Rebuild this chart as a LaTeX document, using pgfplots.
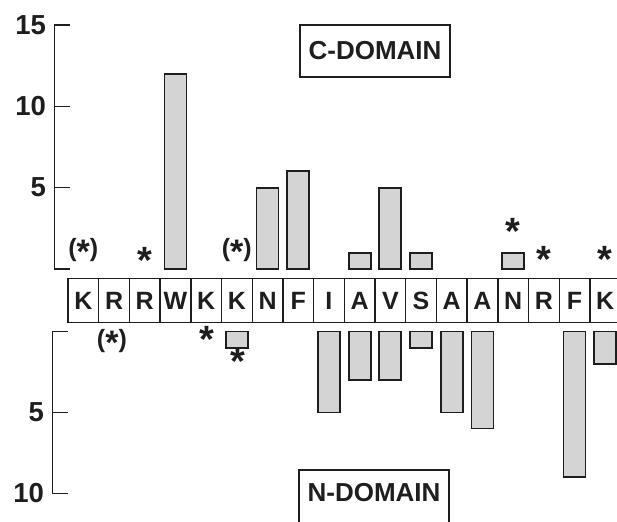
\documentclass[border=0pt]{standalone}
\usepackage{fontspec}
\setmainfont{Liberation Sans}
\usepackage{pgfplots}
\pgfplotsset{compat=1.18}

\definecolor{barfill}{RGB}{212,212,212}
\definecolor{ink}{RGB}{30,30,30}

% residue letters along the sequence
\def\residues{K,R,R,W,K,K,N,F,I,A,V,S,A,A,N,R,F,K}

\newcommand{\ticksize}{\fontsize{27.5}{27.5}\selectfont\bfseries}
\newcommand{\sig}{\fontsize{38}{38}\selectfont\bfseries\raisebox{-0.42em}{*}}
\newcommand{\psig}{\fontsize{25}{25}\selectfont\bfseries(\raisebox{-0.28em}{\fontsize{34}{34}\selectfont*})}

\tikzset{
  resbox/.style={draw=ink, line width=1.4pt, minimum width=30.7pt,
    minimum height=44pt, inner sep=0pt, anchor=north, text=ink,
    font=\fontsize{25}{25}\selectfont\bfseries},
}

\pgfplotsset{
  panel/.style={
    scale only axis,
    anchor=south west,
    axis lines*=left,
    x axis line style={draw=none},
    xtick=\empty,
    y axis line style={ink, line width=1.5pt},
    ytick style={ink, line width=1.5pt},
    tick align=inside,
    major tick length=15pt,
    /pgf/number format/assume math mode=true,
    yticklabel style={font=\ticksize, text=ink, xshift=-5pt},
    ybar, bar width=22pt,
    clip=false,
  },
  bars/.style={draw=ink, line width=1.8pt, fill=barfill},
}

\begin{document}
\begin{tikzpicture}

% C-domain (upward bars)
\begin{axis}[panel, name=cdom,
  at={(54.5pt,252pt)}, width=562.5pt, height=244pt,
  xmin=-0.9397, xmax=17.383, ymin=0, ymax=15,
  ytick={0,5,10,15}, yticklabels={,5,10,15},
]
\addplot[bars] coordinates {(3,12) (6,5) (7,6) (9,1) (10,5) (11,1) (14,1)};
\node[text=ink] at (axis cs:0,1.1)    {\psig};
\node[text=ink] at (axis cs:2,0.55)   {\sig};
\node[text=ink] at (axis cs:5,1.1)    {\psig};
\node[text=ink] at (axis cs:14,2.34)  {\sig};
\node[text=ink] at (axis cs:15,0.6)   {\sig};
\node[text=ink] at (axis cs:17,0.6)   {\sig};
% row of residue boxes
\foreach \r [count=\i from 0] in \residues {
  \edef\temp{\noexpand\node[resbox] at ([yshift=-9pt]axis cs:\i,0) {\r};}
  \temp
}
\end{axis}

% N-domain (downward bars)
\begin{axis}[panel, name=ndom,
  at={(52.5pt,27.7pt)}, width=564.5pt, height=161.8pt,
  y dir=reverse,
  xmin=-1.0049, xmax=17.383, ymin=0, ymax=10,
  ytick={0,5,10}, yticklabels={,5,10},
]
\addplot[bars] coordinates {(5,1) (8,5) (9,3) (10,3) (11,1) (12,5) (13,6) (16,9) (17,2)};
\node[text=ink] at (axis cs:0.93,0.65) {\psig};
\node[text=ink] at (axis cs:4.03,0.46) {\sig};
\node[text=ink] at (axis cs:5.04,1.82) {\sig};
\end{axis}

% vertical scale bars of both panels
\draw[ink, line width=1.5pt] (54.5pt,251.25pt) -- (54.5pt,496.75pt);
\draw[ink, line width=1.5pt] (52.5pt,26.95pt) -- (52.5pt,190.25pt);

% domain labels
\node[draw=ink, line width=1.5pt, minimum width=150pt, minimum height=52pt,
      inner sep=0pt, text=ink, font=\fontsize{26}{26}\selectfont\bfseries]
  at (375pt,470pt) {C-DOMAIN};
\draw[ink, line width=1.5pt] (299pt,-6pt) rectangle (449pt,51pt);
\node[text=ink, font=\fontsize{26}{26}\selectfont\bfseries] at (374pt,28pt) {N-DOMAIN};

\pgfresetboundingbox
\useasboundingbox (0,0) rectangle (617pt,521pt);
\end{tikzpicture}
\end{document}
